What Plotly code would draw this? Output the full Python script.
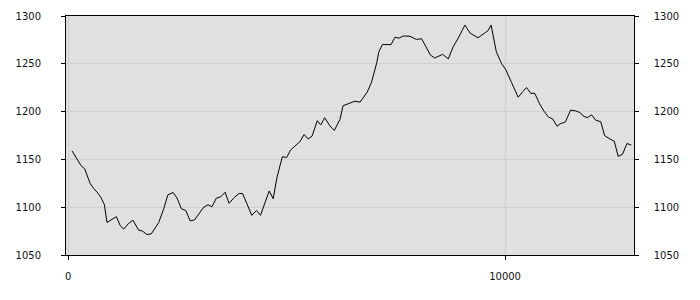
import plotly.graph_objects as go

x_vals = [85, 200, 290, 375, 500, 580, 680, 755, 825, 885, 1000, 1100, 1190, 1270, 1380, 1480,
          1610, 1700, 1800, 1900, 2070, 2180, 2280, 2400, 2490, 2590, 2690, 2790, 2890, 3010,
          3100, 3200, 3290, 3390, 3490, 3590, 3680, 3800, 3910, 3990, 4080, 4200, 4310, 4400,
          4600, 4690, 4780, 4900, 5000, 5090, 5300, 5400, 5490, 5580, 5700, 5780, 5870, 5990,
          6090, 6220, 6290, 6410, 6560, 6680, 6770, 6840, 6940, 7000, 7060, 7110, 7190, 7390,
          7480, 7570, 7670, 7820, 7970, 8090, 8190, 8290, 8390, 8570, 8700, 8810, 8920, 9080,
          9200, 9380, 9550, 9610, 9680, 9730, 9800, 9920, 10010, 10150, 10300, 10410, 10490,
          10590, 10680, 10790, 10890, 10990, 11090, 11190, 11260, 11380, 11500, 11620, 11710,
          11810, 11890, 11980, 12080, 12190, 12280, 12400, 12500, 12590, 12690, 12790, 12890]
y_vals = [1158.9, 1151.0, 1143.6, 1140.1, 1124.8, 1119.7, 1114.6, 1109.5, 1102.8, 1084.0, 1087.4,
          1090.1, 1080.6, 1077.2, 1083.0, 1086.4, 1076.0, 1075.0, 1071.4, 1072.1, 1084.0, 1097.7,
          1113.0, 1115.3, 1109.5, 1098.3, 1096.6, 1085.7, 1086.7, 1094.2, 1100.0, 1102.6, 1100.5,
          1109.5, 1110.9, 1115.6, 1104.1, 1110.2, 1114.3, 1114.3, 1105.1, 1091.5, 1096.6, 1091.5,
          1117.0, 1108.9, 1131.6, 1152.8, 1152.0, 1159.9, 1168.4, 1176.0, 1171.4, 1174.2, 1190.5,
          1186.0, 1193.6, 1185.0, 1180.3, 1191.8, 1206.1, 1207.9, 1210.9, 1209.9, 1215.3, 1220.1,
          1230.3, 1239.8, 1250.7, 1262.6, 1270.1, 1270.1, 1277.9, 1276.8, 1279.1, 1278.8, 1275.5,
          1276.2, 1267.7, 1259.2, 1256.1, 1259.9, 1255.1, 1267.7, 1276.2, 1290.5, 1282.1, 1277.2,
          1282.7, 1284.7, 1290.5, 1277.9, 1262.6, 1250.2, 1244.4, 1230.3, 1215.0, 1221.1, 1225.2,
          1219.1, 1219.1, 1208.2, 1200.5, 1194.4, 1192.3, 1184.7, 1187.2, 1189.1, 1201.5, 1200.7,
          1199.0, 1194.9, 1193.7, 1196.6, 1190.8, 1189.5, 1174.8, 1171.4, 1169.1, 1153.1, 1155.4,
          1166.6, 1165.0]
y_ticks = [1050, 1100, 1150, 1200, 1250, 1300]
x_ticks = [0, 10000]

font = dict(family="DejaVu Sans", size=10, color="#111111")

fig = go.Figure()
fig.add_trace(go.Scatter(x=x_vals, y=y_vals, mode="lines",
                         line=dict(color="black", width=1), showlegend=False, hoverinfo="skip"))
fig.add_trace(go.Scatter(x=x_vals, y=y_vals, mode="lines", yaxis="y2",
                         line=dict(color="rgba(0,0,0,0)", width=0), showlegend=False, hoverinfo="skip"))

fig.update_layout(
    width=700, height=300,
    margin=dict(l=66, r=66, t=10, b=45),
    paper_bgcolor="white",
    plot_bgcolor="#e0e0e0",
    font=font,
    xaxis=dict(range=[-53, 12952], tickvals=x_ticks, ticktext=[str(v) for v in x_ticks],
               showgrid=True, gridcolor="#cfcfcf", gridwidth=1, zeroline=False,
               showline=True, linecolor="black", linewidth=1, mirror=True,
               ticks="outside", ticklen=4, tickcolor="black", ticklabelstandoff=8,
               tickfont=font),
    yaxis=dict(range=[1050, 1300], tickvals=y_ticks, showgrid=True, gridcolor="#cfcfcf",
               gridwidth=1, zeroline=False, showline=True, linecolor="black", linewidth=1,
               mirror=True, ticks="outside", ticklen=4, tickcolor="black",
               ticklabelstandoff=18, tickfont=font),
    yaxis2=dict(range=[1050, 1300], tickvals=y_ticks,
                ticktext=["\u00a0\u00a0\u00a0\u00a0" + str(v) for v in y_ticks],
                overlaying="y", side="right",
                showgrid=False, zeroline=False, showline=True, linecolor="black", linewidth=1,
                ticks="outside", ticklen=4, tickcolor="black",
                tickfont=font),
)

fig.write_html("out.html")
